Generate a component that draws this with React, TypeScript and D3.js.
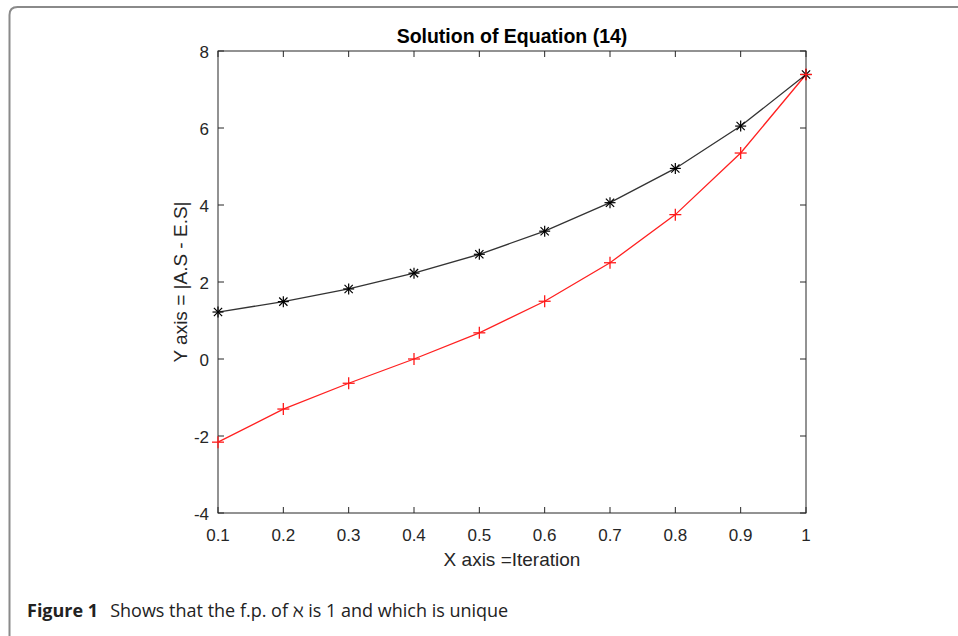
import React from "react";
import * as d3 from "d3";

const xValues = [0.1, 0.2, 0.3, 0.4, 0.5, 0.6, 0.7, 0.8, 0.9, 1.0];
const blackSeries = [1.22, 1.49, 1.82, 2.23, 2.72, 3.32, 4.06, 4.95, 6.05, 7.39];
const redSeries = [-2.16, -1.3, -0.63, 0.0, 0.68, 1.5, 2.5, 3.75, 5.35, 7.39];
const xTicks = [0.1, 0.2, 0.3, 0.4, 0.5, 0.6, 0.7, 0.8, 0.9, 1];
const yTicks = [-4, -2, 0, 2, 4, 6, 8];

const W = 958;
const H = 636;
const L = 218, R = 806, T = 51, B = 513;

export default function App() {
  const x = d3.scaleLinear().domain([0.1, 1]).range([L, R]);
  const y = d3.scaleLinear().domain([-4, 8]).range([B, T]);
  const line = d3.line<number>().x((_, i) => x(xValues[i])).y((d) => y(d));
  const axisColor = "#262626";
  const font = "'Liberation Sans', Arial, sans-serif";
  const tickLen = 6;
  return (
    <svg width={W} height={H} style={{ position: "absolute", left: 0, top: 0 }}>
      <rect x={0} y={0} width={W} height={H} fill="#fff" />
      <path d={`M9.5,${H} L9.5,15 Q9.5,7 17.5,7 L${W},7`} fill="none" stroke="#8a8a8a" strokeWidth={2} />
      <text x={512} y={43} textAnchor="middle" fontFamily={font} fontWeight="bold" fontSize={19.5} fill="#000">
        Solution of Equation (14)
      </text>
      {xTicks.map((t) => (
        <g key={"xt" + t}>
          <line x1={x(t)} x2={x(t)} y1={B} y2={B - tickLen} stroke={axisColor} />
          <line x1={x(t)} x2={x(t)} y1={T} y2={T + tickLen} stroke={axisColor} />
          <text x={x(t)} y={B + 28} textAnchor="middle" fontFamily={font} fontSize={17} fill={axisColor}>
            {String(t)}
          </text>
        </g>
      ))}
      {yTicks.map((t) => (
        <g key={"yt" + t}>
          <line x1={L} x2={L + tickLen} y1={y(t)} y2={y(t)} stroke={axisColor} />
          <line x1={R} x2={R - tickLen} y1={y(t)} y2={y(t)} stroke={axisColor} />
          <text x={L - 9} y={y(t) + 7} textAnchor="end" fontFamily={font} fontSize={17} fill={axisColor}>
            {t < 0 ? "-" + Math.abs(t) : String(t)}
          </text>
        </g>
      ))}
      <rect x={L} y={T} width={R - L} height={B - T} fill="none" stroke={axisColor} strokeWidth={1} />
      <text x={512} y={566} textAnchor="middle" fontFamily={font} fontSize={19} fill={axisColor}>
        X axis =Iteration
      </text>
      <text
        transform={`translate(187,${(T + B) / 2}) rotate(-90)`}
        textAnchor="middle"
        fontFamily={font}
        fontSize={19}
        fill={axisColor}
      >
        Y axis = |A.S - E.S|
      </text>
      <path d={line(blackSeries) || ""} fill="none" stroke="#333" strokeWidth={1.3} />
      <path d={line(redSeries) || ""} fill="none" stroke="#ff2020" strokeWidth={1.3} />
      {blackSeries.map((v, i) => {
        const cx = x(xValues[i]);
        const cy = y(v);
        const s = 5.5;
        const d = s * 0.75;
        return (
          <g key={"b" + i} stroke="#000" strokeWidth={1.2}>
            <line x1={cx - s} x2={cx + s} y1={cy} y2={cy} />
            <line x1={cx} x2={cx} y1={cy - s} y2={cy + s} />
            <line x1={cx - d} x2={cx + d} y1={cy - d} y2={cy + d} />
            <line x1={cx - d} x2={cx + d} y1={cy + d} y2={cy - d} />
          </g>
        );
      })}
      {redSeries.map((v, i) => {
        const cx = x(xValues[i]);
        const cy = y(v);
        const s = 6;
        return (
          <g key={"r" + i} stroke="#ff1a1a" strokeWidth={1.3}>
            <line x1={cx - s} x2={cx + s} y1={cy} y2={cy} />
            <line x1={cx} x2={cx} y1={cy - s} y2={cy + s} />
          </g>
        );
      })}
      <text x={27} y={617} fontFamily="'Open Sans', 'Noto Sans', sans-serif" fontSize={18} fill="#222">
        <tspan fontWeight="bold">Figure 1</tspan>
        <tspan dx={12}>Shows that the f.p. of ℵ is 1 and which is unique</tspan>
      </text>
    </svg>
  );
}
